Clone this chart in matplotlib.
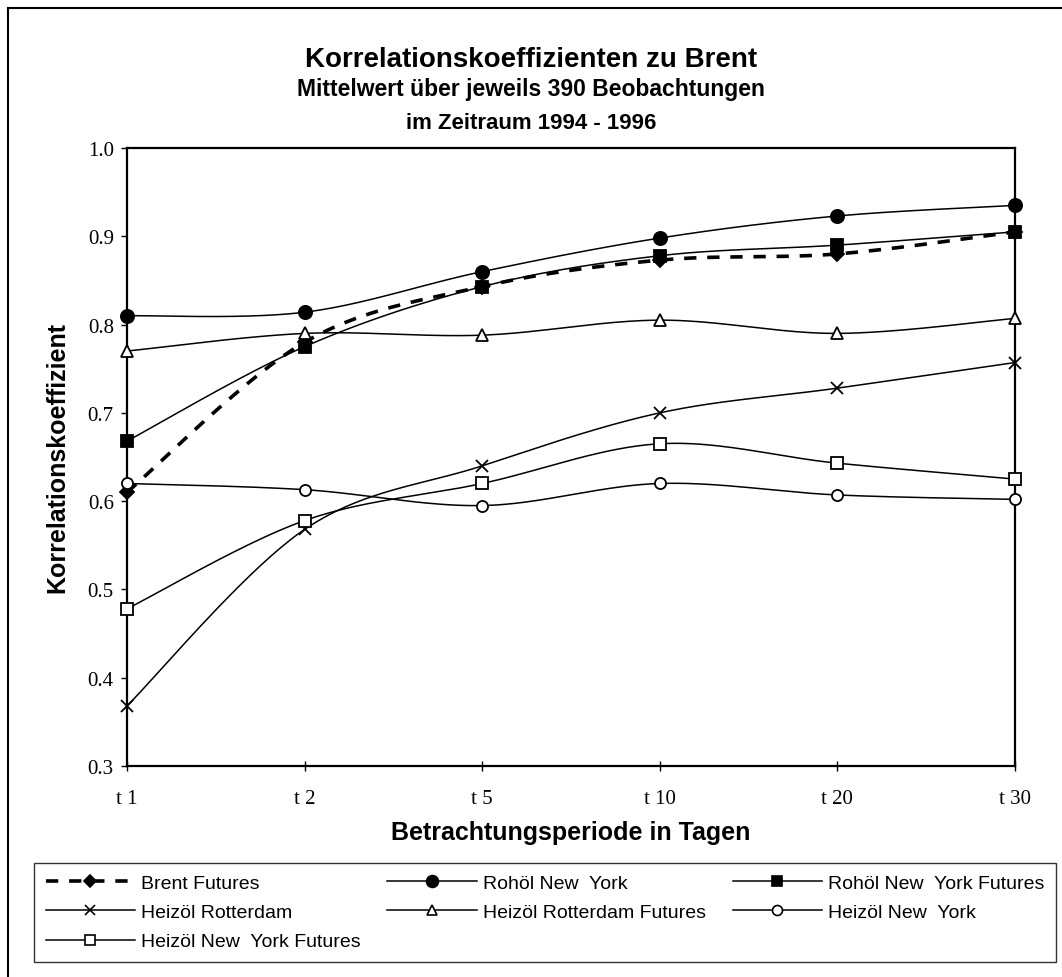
import numpy as np
import matplotlib
matplotlib.use("Agg")
import matplotlib.pyplot as plt
from matplotlib.lines import Line2D

# data
periods = ["t 1", "t 2", "t 5", "t 10", "t 20", "t 30"]

brent_futures = [0.610, 0.780, 0.843, 0.873, 0.880, 0.905]
rohoel_ny = [0.810, 0.814, 0.860, 0.898, 0.923, 0.935]
rohoel_ny_futures = [0.668, 0.775, 0.843, 0.878, 0.890, 0.905]
heizoel_rotterdam = [0.368, 0.568, 0.640, 0.700, 0.728, 0.757]
heizoel_rotterdam_futures = [0.770, 0.790, 0.788, 0.805, 0.790, 0.807]
heizoel_ny = [0.620, 0.613, 0.595, 0.620, 0.607, 0.602]
heizoel_ny_futures = [0.478, 0.578, 0.620, 0.665, 0.643, 0.625]

series = [
    ("Brent Futures", brent_futures, dict(marker="D", ms=7, mfc="k", ls=(0, (3.4, 3.0)), lw=2.6)),
    ("Rohöl New  York", rohoel_ny, dict(marker="o", ms=9.5, mfc="k", ls="-", lw=1.1)),
    ("Rohöl New  York Futures", rohoel_ny_futures, dict(marker="s", ms=8.5, mfc="k", ls="-", lw=1.1)),
    ("Heizöl Rotterdam", heizoel_rotterdam, dict(marker="x", ms=8.5, mfc="k", ls="-", lw=1.1)),
    ("Heizöl Rotterdam Futures", heizoel_rotterdam_futures, dict(marker="^", ms=8, mfc="white", ls="-", lw=1.1)),
    ("Heizöl New  York", heizoel_ny, dict(marker="o", ms=8, mfc="white", ls="-", lw=1.1)),
    ("Heizöl New  York Futures", heizoel_ny_futures, dict(marker="s", ms=8, mfc="white", ls="-", lw=1.1)),
]


def smooth(y, n=40):
    # Excel-like smoothed line (Bezier through the points)
    x = np.arange(len(y), dtype=float)
    pts = np.column_stack([x, np.asarray(y, float)])
    ext = np.vstack([pts[0], pts, pts[-1]])
    t = np.linspace(0, 1, n)[:, None]
    out = []
    for i in range(len(pts) - 1):
        p0, p1, p2, p3 = ext[i], ext[i + 1], ext[i + 2], ext[i + 3]
        c1 = p1 + (p2 - p0) / 6
        c2 = p2 - (p3 - p1) / 6
        seg = (1 - t) ** 3 * p1 + 3 * (1 - t) ** 2 * t * c1 + 3 * (1 - t) * t ** 2 * c2 + t ** 3 * p2
        out.append(seg)
    out = np.vstack(out)
    return out[:, 0], out[:, 1]


fig = plt.figure(figsize=(10.62, 9.78), dpi=100)
ax = fig.add_axes([127 / 1062, 1 - 767 / 978, 888 / 1062, 618 / 978])

handles = []
x = np.arange(len(periods))
for name, vals, st in series:
    xs, ys = smooth(vals)
    ax.plot(xs, ys, color="k", ls=st["ls"], lw=st["lw"], solid_capstyle="butt", dash_capstyle="butt")
    ax.plot(x, vals, ls="none", marker=st["marker"], ms=st["ms"], mfc=st["mfc"], mec="k",
            mew=1.3, clip_on=False, zorder=5)
    handles.append(Line2D([], [], color="k", ls=st["ls"], lw=st["lw"], marker=st["marker"],
                          ms=st["ms"] * 0.9, mfc=st["mfc"], mec="k", mew=1.2))

ax.set_xlim(0, len(periods) - 1)
ax.set_ylim(0.3, 1.0)
ax.set_xticks(x)
ax.set_xticklabels(periods)
ax.set_yticks(np.arange(0.3, 1.01, 0.1))
ax.set_yticklabels([f"{v:.1f}" for v in np.arange(0.3, 1.01, 0.1)])
for lab in ax.get_xticklabels() + ax.get_yticklabels():
    lab.set_family("Liberation Serif")
    lab.set_fontsize(15)
ax.tick_params(axis="y", direction="out", length=4.5, width=1, pad=5)
ax.tick_params(axis="x", direction="inout", length=7, width=1, pad=13)
for sp in ax.spines.values():
    sp.set_linewidth(1.6)

ax.set_xlabel("Betrachtungsperiode in Tagen", family="Liberation Sans", fontsize=18,
              fontweight="bold", labelpad=9)
ax.set_ylabel("Korrelationskoeffizient", family="Liberation Sans", fontsize=18,
              fontweight="bold", labelpad=13)

fig.text(0.5, 1 - 67 / 978, "Korrelationskoeffizienten zu Brent", ha="center", va="baseline",
         family="Liberation Sans", fontsize=20, fontweight="bold")
fig.text(0.5, 1 - 96 / 978, "Mittelwert über jeweils 390 Beobachtungen", ha="center", va="baseline",
         family="Liberation Sans", fontsize=16.5, fontweight="bold")
fig.text(0.5, 1 - 129 / 978, "im Zeitraum 1994 - 1996", ha="center", va="baseline",
         family="Liberation Sans", fontsize=16, fontweight="bold")

# legend, row-wise order in 3 columns
order = [0, 3, 6, 1, 4, 2, 5]
leg = fig.legend([handles[i] for i in order], [series[i][0] for i in order],
                 loc="lower left", bbox_to_anchor=(34 / 1062, 1 - 963 / 978, 1022 / 1062, 100 / 978),
                 mode="expand", ncol=3, frameon=True, fancybox=False, handlelength=4.6,
                 handletextpad=0.3, borderaxespad=0, borderpad=0.6, labelspacing=0.6,
                 columnspacing=1.0, prop={"family": "Liberation Sans", "size": 14})
leg.get_frame().set_edgecolor("k")
leg.get_frame().set_linewidth(1.0)

# outer chart border (top and left visible)
fig.add_artist(Line2D([8 / 1062, 8 / 1062], [0, 1 - 9 / 978], transform=fig.transFigure, color="k", lw=1.5))
fig.add_artist(Line2D([8 / 1062, 1], [1 - 9 / 978, 1 - 9 / 978], transform=fig.transFigure, color="k", lw=1.5))

fig.savefig("out.png", dpi=100)
